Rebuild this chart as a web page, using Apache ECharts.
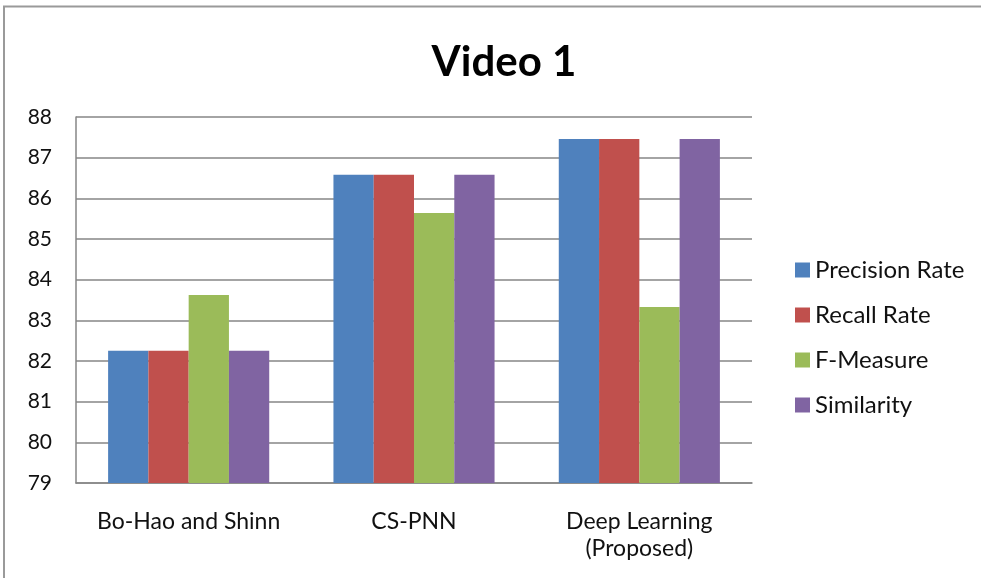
<!DOCTYPE html>
<html>
<head>
<meta charset="utf-8">
<script src="https://cdn.jsdelivr.net/npm/echarts@6/dist/echarts.min.js"></script>
<style>
  html, body { margin: 0; padding: 0; background: #fff; }
  #chart { width: 981px; height: 578px; }
</style>
</head>
<body>
<div id="chart"></div>
<script>
// Methods compared on Video 1
const categories = ['Bo-Hao and Shinn', 'CS-PNN', 'Deep Learning\n(Proposed)'];
const seriesNames = ['Precision Rate', 'Recall Rate', 'F-Measure', 'Similarity'];
const precisionRate = [82.25, 86.58, 87.46];
const recallRate = [82.25, 86.58, 87.46];
const fMeasure = [83.62, 85.64, 83.33];
const similarity = [82.25, 86.58, 87.46];
const yTicks = { min: 79, max: 88, interval: 1 };

const colors = ['#4F81BD', '#C0504D', '#9BBB59', '#8064A2'];
const values = [precisionRate, recallRate, fMeasure, similarity];
const font = 'Lato, "Open Sans", sans-serif';

const chart = echarts.init(document.getElementById('chart'), null, { renderer: 'canvas' });
chart.setOption({
  animation: false,
  backgroundColor: '#fff',
  title: {
    text: 'Video 1',
    left: 499,
    top: 36,
    textAlign: 'center',
    textStyle: { fontFamily: font, fontSize: 42, fontWeight: 'bold', color: '#000' }
  },
  legend: {
    orient: 'vertical',
    left: 790,
    top: 253,
    itemGap: 21,
    itemWidth: 15,
    itemHeight: 15,
    icon: 'rect',
    data: seriesNames,
    textStyle: { fontFamily: font, fontSize: 24, color: '#111', padding: [0, 0, 0, 0] }
  },
  grid: { left: 76, top: 117, width: 676, height: 366, containLabel: false },
  xAxis: {
    type: 'category',
    data: categories,
    axisLine: { lineStyle: { color: '#868686', width: 1.5 } },
    axisTick: { show: false },
    axisLabel: {
      interval: 0,
      hideOverlap: false,
      fontFamily: font, fontSize: 23, color: '#111', margin: 25, lineHeight: 27
    }
  },
  yAxis: {
    type: 'value',
    min: yTicks.min,
    max: yTicks.max,
    interval: yTicks.interval,
    axisLine: { show: true, lineStyle: { color: '#868686', width: 1.5 } },
    axisTick: { show: false },
    splitLine: { lineStyle: { color: '#868686', width: 1.5 } },
    axisLabel: { fontFamily: font, fontSize: 21, color: '#111', margin: 24 }
  },
  graphic: [{
    type: 'polyline',
    shape: { points: [[4, 590], [4, 6.5], [990, 6.5]] },
    style: { stroke: '#9a9a9a', lineWidth: 2, fill: null }
  }],
  series: seriesNames.map((name, i) => ({
    name,
    type: 'bar',
    data: values[i],
    barGap: '0%',
    barCategoryGap: '28.5%',
    itemStyle: { color: colors[i] }
  }))
});
</script>
</body>
</html>
